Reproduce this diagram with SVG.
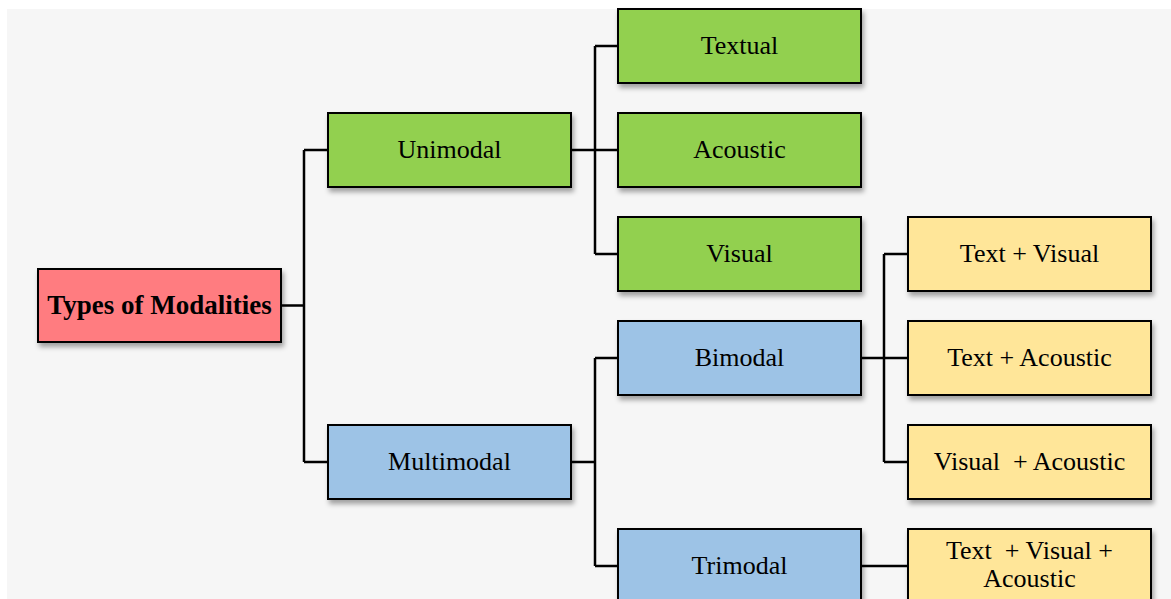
<svg xmlns="http://www.w3.org/2000/svg" width="1171" height="599" viewBox="0 0 1171 599">
<defs>
<filter id="sh" x="-10%" y="-20%" width="130%" height="150%">
<feDropShadow dx="2" dy="4" stdDeviation="2.5" flood-color="#000" flood-opacity="0.35"/>
</filter>
<style>
.box{stroke:#000;stroke-width:2;filter:url(#sh)}
.red{fill:#FF7C80}
.green{fill:#92D050}
.blue{fill:#9DC3E6}
.yellow{fill:#FFE699}
text{font-family:"Liberation Serif","Times New Roman",serif;font-size:26px;fill:#000;text-anchor:middle;white-space:pre}
.b{font-weight:bold;font-size:27px}
.conn{fill:none;stroke:#000;stroke-width:2.5}
</style>
</defs>
<rect x="0" y="0" width="1171" height="599" fill="#fff"/>
<rect x="7" y="9" width="1164" height="590" fill="#F6F6F6"/>
<g id="connectors" class="conn">
<path d="M281 305.5H304M304 150V462M304 150H328M304 462H328"/>
<path d="M571 150H595M595 46V254M595 46H618M595 150H618M595 254H618"/>
<path d="M571 462H595M595 358V566M595 358H618M595 566H618"/>
<path d="M861 358H884M884 254V462M884 254H908M884 358H908M884 462H908"/>
<path d="M861 566H908"/>
</g>
<g id="root"><rect class="box red" x="38" y="269" width="243" height="73"/><text class="b" x="159.5" y="314">Types of Modalities</text></g>
<g id="unimodal"><rect class="box green" x="328" y="113" width="243" height="74"/><text x="449.5" y="158">Unimodal</text></g>
<g id="multimodal"><rect class="box blue" x="328" y="425" width="243" height="74"/><text x="449.5" y="470">Multimodal</text></g>
<g id="textual"><rect class="box green" x="618" y="9" width="243" height="74"/><text x="739.5" y="54">Textual</text></g>
<g id="acoustic"><rect class="box green" x="618" y="113" width="243" height="74"/><text x="739.5" y="158">Acoustic</text></g>
<g id="visual"><rect class="box green" x="618" y="217" width="243" height="74"/><text x="739.5" y="262">Visual</text></g>
<g id="bimodal"><rect class="box blue" x="618" y="321" width="243" height="74"/><text x="739.5" y="366">Bimodal</text></g>
<g id="trimodal"><rect class="box blue" x="618" y="529" width="243" height="74"/><text x="739.5" y="574">Trimodal</text></g>
<g id="text-visual"><rect class="box yellow" x="908" y="217" width="243" height="74"/><text x="1029.5" y="262">Text + Visual</text></g>
<g id="text-acoustic"><rect class="box yellow" x="908" y="321" width="243" height="74"/><text x="1029.5" y="366">Text + Acoustic</text></g>
<g id="visual-acoustic"><rect class="box yellow" x="908" y="425" width="243" height="74"/><text x="1029.5" y="470">Visual  + Acoustic</text></g>
<g id="text-visual-acoustic"><rect class="box yellow" x="908" y="529" width="243" height="74"/><text x="1029.5" y="559">Text  + Visual +</text><text x="1029.5" y="587">Acoustic</text></g>
</svg>
